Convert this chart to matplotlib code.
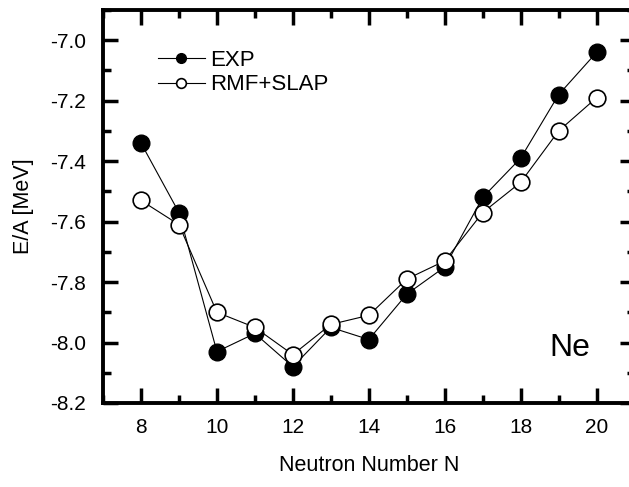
import matplotlib
matplotlib.use("Agg")
import matplotlib.pyplot as plt
from matplotlib.ticker import MultipleLocator

plt.rcParams['font.family'] = ['Liberation Sans', 'DejaVu Sans']

N = [8, 9, 10, 11, 12, 13, 14, 15, 16, 17, 18, 19, 20]
exp_vals = [-7.34, -7.57, -8.03, -7.97, -8.08, -7.95, -7.99, -7.84, -7.75, -7.52, -7.39, -7.18, -7.04]
rmf_vals = [-7.53, -7.61, -7.90, -7.95, -8.04, -7.94, -7.91, -7.79, -7.73, -7.57, -7.47, -7.30, -7.19]

fig = plt.figure(figsize=(6.29, 4.87), dpi=100)
ax = fig.add_axes([103/629, 1 - 403/487, (634.6 - 103)/629, (403 - 10)/487])

ax.plot(N, exp_vals, '-', color='black', lw=0.8, marker='o', ms=12,
        mfc='black', mec='black', mew=1.0, label='EXP', zorder=3)
ax.plot(N, rmf_vals, '-', color='black', lw=0.8, marker='o', ms=12,
        mfc='white', mec='black', mew=1.2, label='RMF+SLAP', zorder=4)

ax.set_xlim(7, 21)
ax.set_ylim(-8.2, -6.9)
ax.xaxis.set_major_locator(MultipleLocator(2))
ax.xaxis.set_minor_locator(MultipleLocator(1))
ax.yaxis.set_major_locator(MultipleLocator(0.2))
ax.yaxis.set_minor_locator(MultipleLocator(0.1))
ax.set_xticks([8, 10, 12, 14, 16, 18, 20])
ax.set_yticks([-8.2, -8.0, -7.8, -7.6, -7.4, -7.2, -7.0])
ax.set_yticklabels(['-8.2', '-8.0', '-7.8', '-7.6', '-7.4', '-7.2', '-7.0'])

ax.tick_params(which='both', direction='in', top=True, right=True, width=2.5, labelsize=15)
ax.tick_params(which='major', length=11)
ax.tick_params(which='minor', length=5.5)
ax.tick_params(axis='y', pad=12)
ax.tick_params(axis='x', pad=11)
for s in ax.spines.values():
    s.set_linewidth(2.8)

ax.set_xlabel('Neutron Number N', fontsize=15.5, labelpad=13)
ax.set_ylabel('E/A [MeV]', fontsize=15.5, labelpad=12)

ax.text(18.75, -8.045, 'Ne', fontsize=23, ha='left', va='baseline')

leg = ax.legend(loc='upper left', bbox_to_anchor=(0.1035, 0.898), frameon=False,
                fontsize=16, handlelength=2.1, handletextpad=0.25, labelspacing=0.15,
                borderpad=0, borderaxespad=0, markerscale=7/12)

fig.savefig('out.png', dpi=100)
